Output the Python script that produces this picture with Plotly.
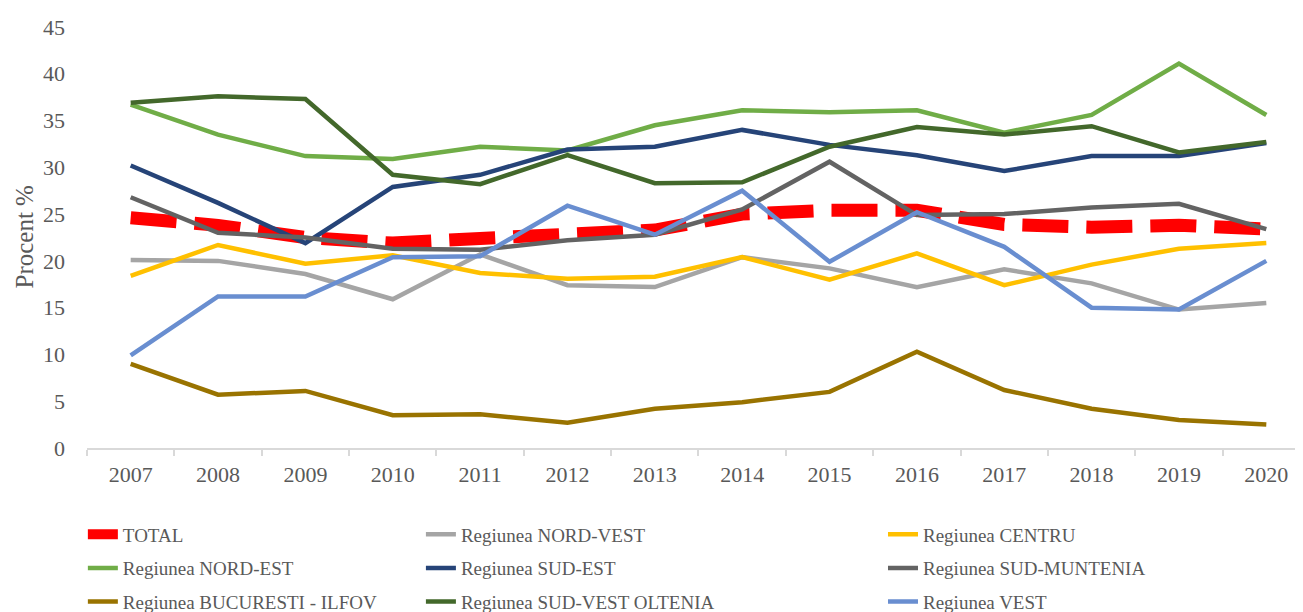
import plotly.graph_objects as go

years = list(range(2007, 2021))
total = [24.6, 23.8, 22.5, 21.9, 22.4, 23.0, 23.3, 25.0, 25.4, 25.4, 23.9, 23.6, 23.8, 23.4]
nord_vest = [20.1, 20.0, 18.6, 15.9, 20.7, 17.4, 17.2, 20.4, 19.2, 17.2, 19.1, 17.6, 14.8, 15.5]
centru = [18.4, 21.7, 19.7, 20.6, 18.7, 18.1, 18.3, 20.4, 18.0, 20.8, 17.4, 19.6, 21.3, 21.9]
nord_est = [36.7, 33.5, 31.2, 30.9, 32.2, 31.8, 34.5, 36.1, 35.9, 36.1, 33.7, 35.6, 41.1, 35.6]
sud_est = [30.2, 26.2, 21.9, 27.9, 29.2, 31.9, 32.2, 34.0, 32.4, 31.3, 29.6, 31.2, 31.2, 32.6]
sud_muntenia = [26.8, 23.0, 22.5, 21.3, 21.2, 22.2, 22.8, 25.5, 30.6, 24.9, 25.0, 25.7, 26.1, 23.4]
bucuresti = [9.0, 5.7, 6.1, 3.5, 3.6, 2.7, 4.2, 4.9, 6.0, 10.3, 6.2, 4.2, 3.0, 2.5]
sud_vest = [36.9, 37.6, 37.3, 29.2, 28.2, 31.3, 28.3, 28.4, 32.2, 34.3, 33.5, 34.4, 31.6, 32.7]
vest = [9.9, 16.2, 16.2, 20.4, 20.5, 25.9, 22.8, 27.5, 19.9, 25.2, 21.5, 15.0, 14.8, 20.0]

series = [
    ("TOTAL", total, "#FF0000", "legend"),
    ("Regiunea NORD-VEST", nord_vest, "#A5A5A5", "legend2"),
    ("Regiunea CENTRU", centru, "#FFC000", "legend3"),
    ("Regiunea NORD-EST", nord_est, "#70AD47", "legend"),
    ("Regiunea SUD-EST", sud_est, "#264478", "legend2"),
    ("Regiunea SUD-MUNTENIA", sud_muntenia, "#636363", "legend3"),
    ("Regiunea BUCURESTI - ILFOV", bucuresti, "#997300", "legend"),
    ("Regiunea SUD-VEST OLTENIA", sud_vest, "#43682B", "legend2"),
    ("Regiunea VEST", vest, "#698ED0", "legend3"),
]

FONT = "Liberation Serif"
TXT = "#595959"

fig = go.Figure()
for i, (name, vals, color, lg) in enumerate(series):
    if name == "TOTAL":
        line = dict(color=color, width=13, dash="46px,18px")
    else:
        line = dict(color=color, width=4.5)
    fig.add_trace(go.Scatter(x=years, y=vals, name=name, mode="lines",
                             line=line, legend=lg, legendgroup=f"g{i}"))

leg_common = dict(orientation="v", yanchor="top", y=-0.16, xanchor="left",
                  font=dict(family=FONT, size=19, color=TXT),
                  bgcolor="rgba(0,0,0,0)", tracegroupgap=6)
fig.update_layout(
    width=1295, height=604,
    margin=dict(l=79, r=0, t=19, b=164, autoexpand=False),
    paper_bgcolor="white", plot_bgcolor="white",
    font=dict(family=FONT, size=22, color=TXT),
    legend=dict(leg_common, x=-0.0034),
    legend2=dict(leg_common, x=0.2746),
    legend3=dict(leg_common, x=0.6546),
    xaxis=dict(range=[2006.5, 2020.42], tickvals=years, ticktext=[str(y) for y in years],
               ticks="", showgrid=False, zeroline=False, showline=True, automargin=False,
               linecolor="#D9D9D9", linewidth=1.5, ticklabelstandoff=6,
               minor=dict(tick0=2006.5, dtick=1, ticks="outside", ticklen=6,
                          tickcolor="#D9D9D9", tickwidth=1.5, showgrid=False),
               tickfont=dict(family=FONT, size=22, color=TXT)),
    yaxis=dict(range=[0, 45], dtick=5, showgrid=False, zeroline=False, showline=False,
               ticks="", ticklabelstandoff=21, automargin=False,
               tickfont=dict(family=FONT, size=22, color=TXT)),
    annotations=[dict(text="Procent %", xref="paper", yref="paper",
                      x=-0.0518, y=0.5, xanchor="center", yanchor="middle",
                      textangle=-90, showarrow=False,
                      font=dict(family=FONT, size=25, color=TXT))],
)
fig.write_html("out.html")
